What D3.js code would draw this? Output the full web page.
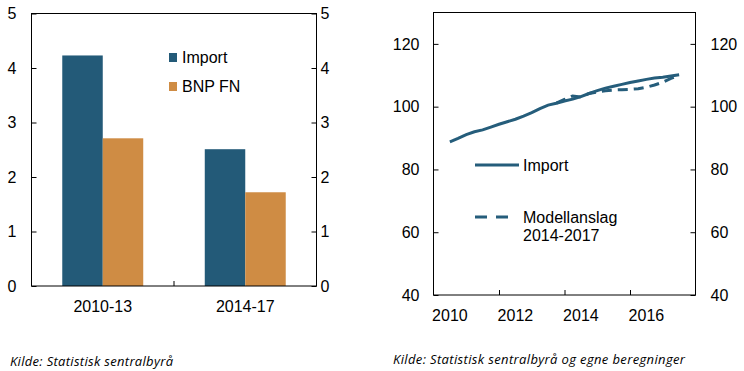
<!DOCTYPE html>
<html>
<head>
<meta charset="utf-8">
<script src="https://cdn.jsdelivr.net/npm/d3@7.9.0/dist/d3.min.js"></script>
<style>
  body { margin: 0; background: #fff; }
  svg text { font-family: "Liberation Sans", Arial, sans-serif; fill: #000; }
  .note { font-family: "Open Sans", sans-serif; font-style: italic; font-size: 13px; }
</style>
</head>
<body>
<svg id="chart" width="744" height="371"></svg>
<script>
// ---------------------------------------------------------------
// Data
// ---------------------------------------------------------------
const periods = ['2010-13', '2014-17'];
const barSeries = ['Import', 'BNP FN'];
const importGrowth = [4.23, 2.51];
const bnpGrowth = [2.71, 1.72];
const barTicks = [0, 1, 2, 3, 4, 5];

// quarterly index, plotted from mid 2010
const quarters = [
  2010.5, 2010.75, 2011, 2011.25, 2011.5, 2011.75, 2012, 2012.25, 2012.5, 2012.75,
  2013, 2013.25, 2013.5, 2013.75, 2014, 2014.25, 2014.5, 2014.75, 2015, 2015.25,
  2015.5, 2015.75, 2016, 2016.25, 2016.5, 2016.75, 2017, 2017.25, 2017.5
];
const importIndex = [
  88.8, 89.9, 91.1, 92.0, 92.6, 93.5, 94.4, 95.2, 96.0, 97.0,
  98.1, 99.4, 100.5, 101.1, 101.8, 102.4, 103.2, 104.2, 105.1, 105.9,
  106.5, 107.1, 107.7, 108.2, 108.7, 109.1, 109.4, 109.8, 110.2
];
const modelQuarters = [
  2013.75, 2014, 2014.25, 2014.5, 2014.75, 2015, 2015.25, 2015.5,
  2015.75, 2016, 2016.25, 2016.5, 2016.75, 2017, 2017.25, 2017.5
];
const modelIndex = [
  101.1, 102.3, 103.4, 103.1, 104.2, 104.7, 105.1, 105.3,
  105.4, 105.5, 105.7, 106.2, 106.9, 107.8, 109.0, 110.0
];
const indexTicks = [40, 60, 80, 100, 120];
const yearTicks = [2012, 2014, 2016];
const yearLabels = [2010, 2012, 2014, 2016];

const blue = '#235a78';
const orange = '#cf8c44';
const lineBlue = '#255d7b';

const svg = d3.select('#chart');

// ---------------------------------------------------------------
// Left panel: bars
// ---------------------------------------------------------------
const L = { left: 31.5, right: 316.5, top: 13.5, bottom: 286 };

const yBar = d3.scaleLinear().domain([0, 5]).range([L.bottom, L.top]);
const xGroup = d3.scaleBand().domain(periods).range([L.left, L.right]);
const xSeries = d3.scaleBand().domain(barSeries)
  .range([0, xGroup.bandwidth()]).paddingOuter(0.76);

const barRows = periods.map((p, i) => ({
  period: p,
  values: [
    { key: 'Import', value: importGrowth[i], color: blue },
    { key: 'BNP FN', value: bnpGrowth[i], color: orange },
  ],
}));

const left = svg.append('g');

left.selectAll('g.group')
  .data(barRows)
  .join('g')
  .attr('class', 'group')
  .attr('transform', (d) => `translate(${xGroup(d.period)},0)`)
  .selectAll('rect')
  .data((d) => d.values)
  .join('rect')
  .attr('x', (d) => xSeries(d.key))
  .attr('width', xSeries.bandwidth())
  .attr('y', (d) => yBar(d.value))
  .attr('height', (d) => yBar(0) - yBar(d.value))
  .attr('fill', (d) => d.color);

left.append('g')
  .attr('transform', `translate(${L.left},0)`)
  .call(d3.axisLeft(yBar).tickValues(barTicks).tickFormat(d3.format('d'))
    .tickSizeInner(-5).tickSizeOuter(0).tickPadding(15))
  .call((g) => g.select('.domain').remove());

left.append('g')
  .attr('transform', `translate(${L.right},0)`)
  .call(d3.axisRight(yBar).tickValues(barTicks).tickFormat(d3.format('d'))
    .tickSizeInner(-5).tickSizeOuter(0).tickPadding(4))
  .call((g) => g.select('.domain').remove());

left.append('g')
  .attr('transform', `translate(0,${L.bottom})`)
  .call(d3.axisBottom(xGroup).tickSize(0).tickPadding(15))
  .call((g) => g.select('.domain').remove());

// divider tick between the groups
left.append('line')
  .attr('x1', xGroup(periods[1])).attr('x2', xGroup(periods[1]))
  .attr('y1', L.bottom).attr('y2', L.bottom - 5)
  .attr('stroke', '#000');

left.append('rect')
  .attr('x', L.left).attr('y', L.top)
  .attr('width', L.right - L.left).attr('height', L.bottom - L.top)
  .attr('fill', 'none').attr('stroke', '#000');

const barLegend = left.append('g')
  .selectAll('g')
  .data(barRows[0].values)
  .join('g')
  .attr('transform', (d, i) => `translate(169,${57.5 + i * 29})`);
barLegend.append('rect')
  .attr('x', 0).attr('y', -4.5).attr('width', 8).attr('height', 9)
  .attr('fill', (d) => d.color);
barLegend.append('text')
  .attr('x', 13).attr('dy', '0.35em')
  .text((d) => d.key);

// ---------------------------------------------------------------
// Right panel: lines
// ---------------------------------------------------------------
const R = { left: 433.5, right: 695.5, top: 12.5, bottom: 295 };

const xYear = d3.scaleLinear().domain([2010, 2018]).range([R.left, R.right]);
const yIdx = d3.scaleLinear().domain([40, 130]).range([R.bottom, R.top]);

const right = svg.append('g');

right.append('g')
  .attr('transform', `translate(${R.left},0)`)
  .call(d3.axisLeft(yIdx).tickValues(indexTicks).tickSizeInner(-5).tickSizeOuter(0).tickPadding(14))
  .call((g) => g.select('.domain').remove());

right.append('g')
  .attr('transform', `translate(${R.right},0)`)
  .call(d3.axisRight(yIdx).tickValues(indexTicks).tickSizeInner(-5).tickSizeOuter(0).tickPadding(15))
  .call((g) => g.select('.domain').remove());

right.append('g')
  .attr('transform', `translate(0,${R.bottom})`)
  .call(d3.axisBottom(xYear).tickValues(yearTicks).tickSizeInner(-5).tickSizeOuter(0).tickFormat(''))
  .call((g) => g.select('.domain').remove());

// year labels sit in the middle of the year
right.append('g')
  .selectAll('text')
  .data(yearLabels)
  .join('text')
  .attr('x', (d) => xYear(d + 0.5))
  .attr('y', R.bottom + 20)
  .attr('dy', '0.35em')
  .attr('text-anchor', 'middle')
  .text((d) => d);

right.append('rect')
  .attr('x', R.left).attr('y', R.top)
  .attr('width', R.right - R.left).attr('height', R.bottom - R.top)
  .attr('fill', 'none').attr('stroke', '#000');

const line = d3.line()
  .x((d) => xYear(d[0]))
  .y((d) => yIdx(d[1]));

right.append('path')
  .datum(d3.zip(modelQuarters, modelIndex))
  .attr('d', line)
  .attr('fill', 'none')
  .attr('stroke', lineBlue)
  .attr('stroke-width', 3)
  .attr('stroke-dasharray', '10,6');

right.append('path')
  .datum(d3.zip(quarters, importIndex))
  .attr('d', line)
  .attr('fill', 'none')
  .attr('stroke', lineBlue)
  .attr('stroke-width', 3);

// legend
const lineLegend = right.append('g');
lineLegend.append('line')
  .attr('x1', 475).attr('x2', 519).attr('y1', 165).attr('y2', 165)
  .attr('stroke', lineBlue).attr('stroke-width', 3);
lineLegend.append('text')
  .attr('x', 523).attr('y', 165).attr('dy', '0.35em').text('Import');
lineLegend.append('line')
  .attr('x1', 475).attr('x2', 509).attr('y1', 217).attr('y2', 217)
  .attr('stroke', lineBlue).attr('stroke-width', 3)
  .attr('stroke-dasharray', '12,9');
lineLegend.append('text')
  .attr('x', 523).attr('y', 217).attr('dy', '0.35em').text('Modellanslag');
lineLegend.append('text')
  .attr('x', 523).attr('y', 235).attr('dy', '0.35em').text('2014-2017');

svg.selectAll('.tick text').style('font-size', '16px');
svg.selectAll('g > text').style('font-size', '16px');

// ---------------------------------------------------------------
// Sources
// ---------------------------------------------------------------
svg.append('text').attr('class', 'note')
  .attr('x', 10).attr('y', 366)
  .attr('textLength', 163).attr('lengthAdjust', 'spacing')
  .text('Kilde: Statistisk sentralbyrå');
svg.append('text').attr('class', 'note')
  .attr('x', 393).attr('y', 364)
  .attr('textLength', 292).attr('lengthAdjust', 'spacing')
  .text('Kilde: Statistisk sentralbyrå og egne beregninger');
</script>
</body>
</html>
